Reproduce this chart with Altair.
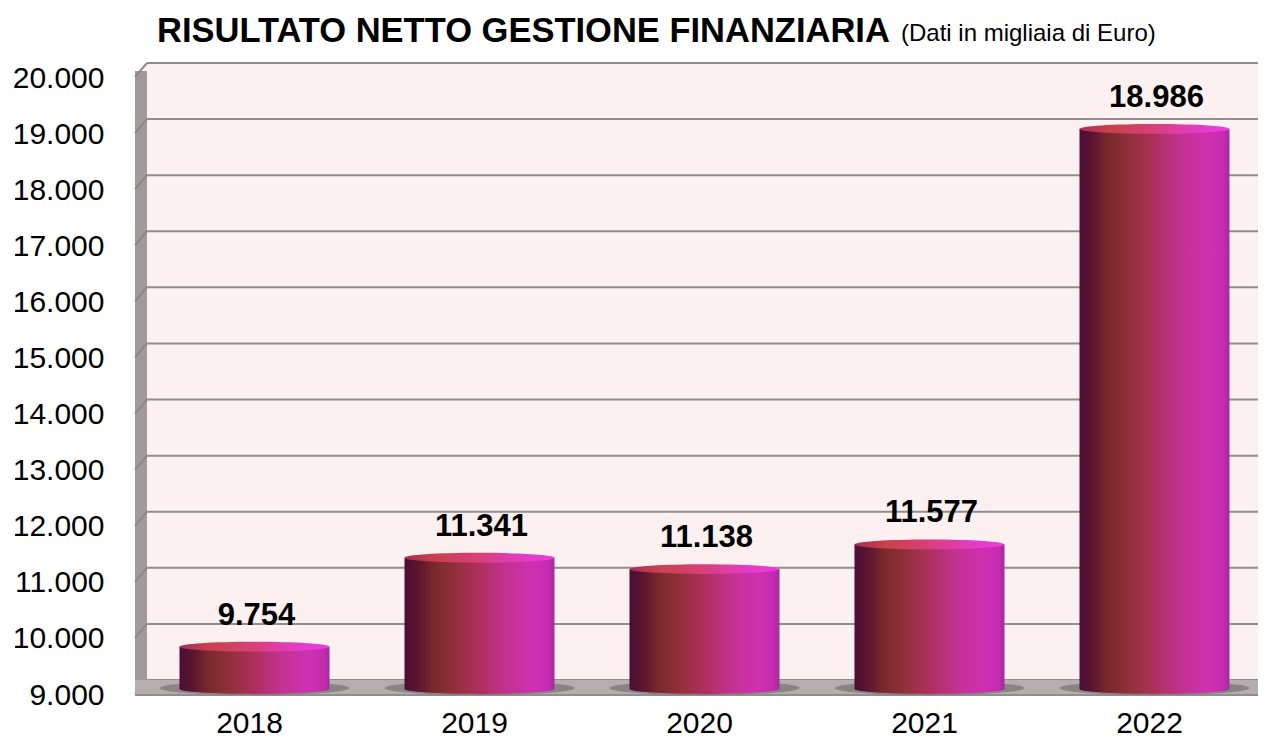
import altair as alt
import pandas as pd

# ---- data ----
years = ["2018", "2019", "2020", "2021", "2022"]
values = [9754, 11341, 11138, 11577, 18986]
ticks = [9000, 10000, 11000, 12000, 13000, 14000, 15000, 16000, 17000, 18000, 19000, 20000]
title_main = "RISULTATO NETTO GESTIONE FINANZIARIA"
title_sub = "(Dati in migliaia di Euro)"

W, H = 1116, 617
FONT = "Liberation Sans"

bars_df = pd.DataFrame({"year": years, "v": values})
ticks_df = pd.DataFrame({"t": ticks})
frame_df = pd.DataFrame({"lo": [ticks[0]], "hi": [ticks[-1]]})

fmt = "replace(format(datum.value, ','), ',', '.')"

yscale = alt.Scale(domain=[ticks[0], ticks[-1]], nice=False, zero=False)
yaxis = alt.Axis(title=None, values=ticks, labelExpr=fmt, labelFont=FONT,
                 labelFontSize=30, labelColor="black", labelPadding=38,
                 ticks=False, domain=False, grid=False)
xscale = alt.Scale(domain=years, range=[0, 1125], paddingInner=0, paddingOuter=0)
xaxis = alt.Axis(title=None, labelFont=FONT, labelFontSize=30, labelColor="black",
                 labelPadding=13, ticks=False, domain=False, labelAngle=0,
                 labelOffset=-5, orient="bottom")

X = alt.X("year:N", scale=xscale, axis=xaxis, sort=years)


def ellipse(ry):
    k = 0.5523
    return (f"M -1 0 C -1 {-ry*k:.4f} {-k} {-ry} 0 {-ry} "
            f"C {k} {-ry} 1 {-ry*k:.4f} 1 0 "
            f"C 1 {ry*k:.4f} {k} {ry} 0 {ry} "
            f"C {-k} {ry} -1 {ry*k:.4f} -1 0 Z")


def grad(stops):
    return alt.Gradient(gradient="linear", x1=0, x2=1, y1=0, y2=0,
                        stops=[alt.GradientStop(color=c, offset=o) for o, c in stops])


body_grad = grad([(0, "#4a0f33"), (0.08, "#5a1432"), (0.2, "#7b2a2a"),
                  (0.35, "#93303e"), (0.5, "#ad305c"), (0.68, "#c23290"),
                  (0.86, "#cf30b2"), (0.96, "#c42cb0"), (1, "#a8289e")])
cap_grad = grad([(0, "#a82f58"), (0.2, "#c8404c"), (0.5, "#d8407a"),
                 (0.8, "#e43cc8"), (1, "#ee3ade")])

# back wall
wall = alt.Chart(frame_df).mark_rect(color="#fcf0f0", yOffset=-15, y2Offset=-15).encode(
    x=alt.value(5), x2=alt.value(W),
    y=alt.Y("hi:Q", scale=yscale, axis=yaxis), y2="lo:Q")

grid = alt.Chart(ticks_df).mark_rule(color="#8e8e8e", strokeWidth=2, yOffset=-15).encode(
    x=alt.value(5), x2=alt.value(W),
    y=alt.Y("t:Q", scale=yscale, axis=yaxis))

side = alt.Chart(frame_df).mark_rect(color="#a29a9a", yOffset=-7, y2Offset=-7).encode(
    x=alt.value(-7), x2=alt.value(5),
    y=alt.Y("hi:Q", scale=yscale, axis=yaxis), y2="lo:Q")

diag = alt.Chart(ticks_df).mark_rule(color="#8a8a8a", strokeWidth=2, yOffset=-1, y2Offset=-15).encode(
    x=alt.value(-7), x2=alt.value(5),
    y=alt.Y("t:Q", scale=yscale, axis=yaxis), y2="t:Q")

floor = alt.Chart(frame_df).mark_rect(color="#b4aeae", yOffset=-15, y2Offset=0).encode(
    x=alt.value(-7), x2=alt.value(W),
    y=alt.Y("lo:Q", scale=yscale, axis=yaxis), y2="lo:Q")

floor_edge = alt.Chart(frame_df).mark_rule(color="#8e8e8e", strokeWidth=2).encode(
    x=alt.value(-7), x2=alt.value(W),
    y=alt.Y("lo:Q", scale=yscale, axis=yaxis))

shadow = alt.Chart(bars_df).mark_point(shape=ellipse(0.075), size=190 ** 2, filled=True,
                                       color="#7d7676", opacity=0.75, strokeWidth=0,
                                       yOffset=-7).encode(
    x=X, y=alt.Y("lo:Q", scale=yscale, axis=yaxis)).transform_calculate(lo=str(ticks[0]))

bars = alt.Chart(bars_df).mark_bar(size=150, color=body_grad, yOffset=-6, y2Offset=-6).encode(
    x=X, y=alt.Y("v:Q", scale=yscale, axis=yaxis), y2="lo:Q").transform_calculate(lo=str(ticks[0]))

bottom = alt.Chart(bars_df).mark_point(shape=ellipse(0.065), size=150 ** 2, filled=True,
                                       fill=body_grad, opacity=1, strokeWidth=0,
                                       yOffset=-6).encode(
    x=X, y=alt.Y("lo:Q", scale=yscale, axis=yaxis)).transform_calculate(lo=str(ticks[0]))

top = alt.Chart(bars_df).mark_point(shape=ellipse(0.065), size=150 ** 2, filled=True,
                                    fill=cap_grad, opacity=1, strokeWidth=0,
                                    yOffset=-6).encode(
    x=X, y=alt.Y("v:Q", scale=yscale, axis=yaxis))

labels = alt.Chart(bars_df).transform_calculate(
    lab="replace(format(datum.v, ','), ',', '.')"
).mark_text(font=FONT, fontSize=31, fontWeight="bold", color="black",
            baseline="alphabetic", align="center", dy=-28, xOffset=2).encode(
    x=X, y=alt.Y("v:Q", scale=yscale, axis=yaxis), text="lab:N")

t1 = alt.Chart(pd.DataFrame({"s": [title_main]})).mark_text(
    font=FONT, fontSize=34.5, fontWeight="bold", color="black",
    align="left", baseline="alphabetic").encode(
    x=alt.value(15), y=alt.value(-36), text="s:N")

t2 = alt.Chart(pd.DataFrame({"s": [title_sub]})).mark_text(
    font=FONT, fontSize=24, color="black",
    align="left", baseline="alphabetic").encode(
    x=alt.value(759), y=alt.value(-37), text="s:N")

chart = alt.layer(wall, grid, side, diag, floor, floor_edge, shadow, bars, bottom, top,
                  labels, t1, t2).properties(
    width=W, height=H,
    autosize=alt.AutoSizeParams(type="none"),
    padding={"left": 134, "top": 70, "right": 0, "bottom": 44},
    background="white",
).configure_view(strokeWidth=0)

chart.save("out.html", embed_options={"renderer": "svg", "actions": False})
